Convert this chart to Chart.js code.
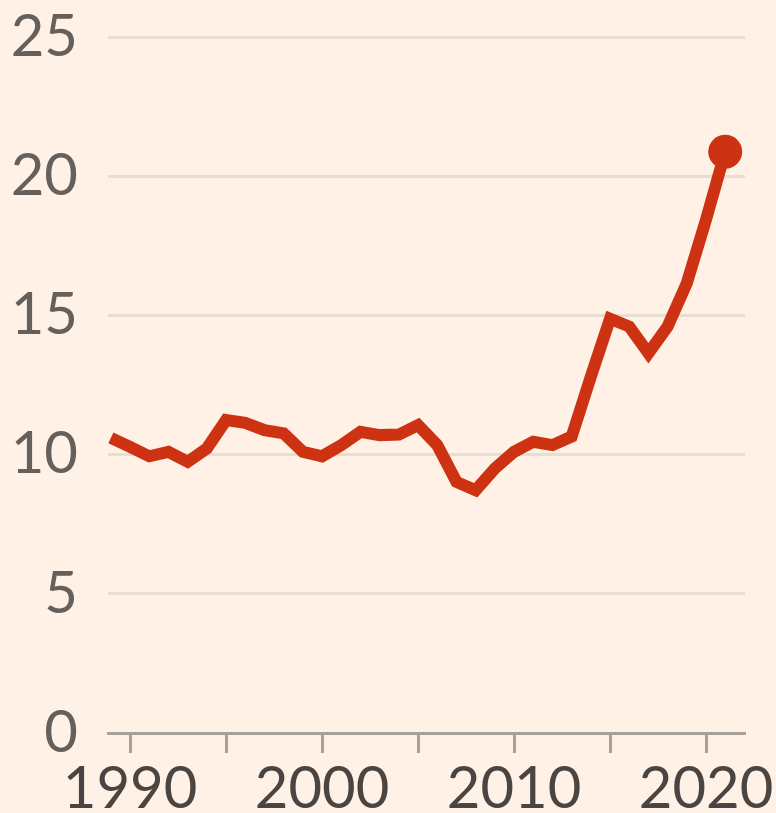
<!DOCTYPE html>
<html>
<head>
<meta charset="utf-8">
<script src="https://cdn.jsdelivr.net/npm/chart.js@4/dist/chart.umd.min.js"></script>
<style>
  html, body { margin: 0; padding: 0; background: #FFF1E5; }
  #chart { display: block; }
</style>
</head>
<body>
<canvas id="chart" width="776" height="813"></canvas>
<script>
// Yearly values
const years = [1989, 1990, 1991, 1992, 1993, 1994, 1995, 1996, 1997, 1998, 1999,
  2000, 2001, 2002, 2003, 2004, 2005, 2006, 2007, 2008, 2009,
  2010, 2011, 2012, 2013, 2014, 2015, 2016, 2017, 2018, 2019, 2020, 2021];
const values = [10.6, 10.28, 9.94, 10.1, 9.74, 10.22, 11.24, 11.14, 10.88, 10.76, 10.1,
  9.94, 10.34, 10.82, 10.7, 10.72, 11.06, 10.34, 9.02, 8.72, 9.5,
  10.1, 10.46, 10.34, 10.65, 12.8, 14.88, 14.6, 13.64, 14.6, 16.16, 18.44, 20.88];

// Axis ticks
const xTickYears = [1990, 1995, 2000, 2005, 2010, 2015, 2020];
const yTicks = [0, 5, 10, 15, 20, 25];

const yTextColor = "#66605C";
const xTextColor = "#4A4542";
const lineColor = "#CD3212";
const gridColor = "#E9DDD2";
const axisColor = "#A7A19B";
const fontFamily = "Lato, Roboto, sans-serif";

const points = years.map((yr, i) => ({ x: yr, y: values[i] }));
const lastIndex = points.length - 1;

new Chart(document.getElementById("chart"), {
  type: "line",
  data: {
    datasets: [
      {
        data: points,
        borderColor: lineColor,
        backgroundColor: lineColor,
        borderWidth: 12,
        borderJoinStyle: "miter",
        tension: 0,
        pointRadius: (ctx) => (ctx.dataIndex === lastIndex ? 17 : 0),
        pointHoverRadius: 0,
        pointBorderWidth: 0,
        clip: false,
      },
    ],
  },
  options: {
    responsive: false,
    animation: false,
    layout: { padding: { top: 37, right: 31, left: 0, bottom: 0 } },
    plugins: { legend: { display: false }, tooltip: { enabled: false } },
    scales: {
      x: {
        type: "linear",
        min: 1988.85,
        max: 2022.03,
        afterBuildTicks: (scale) => {
          scale.ticks = xTickYears.map((v) => ({ value: v }));
        },
        afterFit: (scale) => {
          scale.height = 80;
          scale.paddingLeft = 0;
          scale.paddingRight = 0;
        },
        ticks: {
          autoSkip: false,
          maxRotation: 0,
          padding: 1,
          color: xTextColor,
          font: { family: fontFamily, size: 58 },
          callback: (v) => (v % 10 === 0 ? String(v) : ""),
        },
        grid: {
          drawOnChartArea: false,
          drawTicks: true,
          tickLength: 20,
          tickColor: axisColor,
          tickWidth: 3,
        },
        border: { display: true, color: axisColor, width: 3 },
      },
      y: {
        min: 0,
        max: 25,
        afterBuildTicks: (scale) => {
          scale.ticks = yTicks.map((v) => ({ value: v }));
        },
        afterFit: (scale) => {
          scale.width = 108;
          // let the top label hang into the padding instead of pushing the plot down
          scale.paddingTop = 0;
          scale.paddingBottom = 0;
        },
        ticks: {
          padding: 30,
          color: yTextColor,
          font: { family: fontFamily, size: 58 },
        },
        grid: {
          drawTicks: false,
          lineWidth: 3,
          color: (ctx) => (ctx.tick && ctx.tick.value === 0 ? "rgba(0,0,0,0)" : gridColor),
        },
        border: { display: false },
      },
    },
  },
});
</script>
</body>
</html>
